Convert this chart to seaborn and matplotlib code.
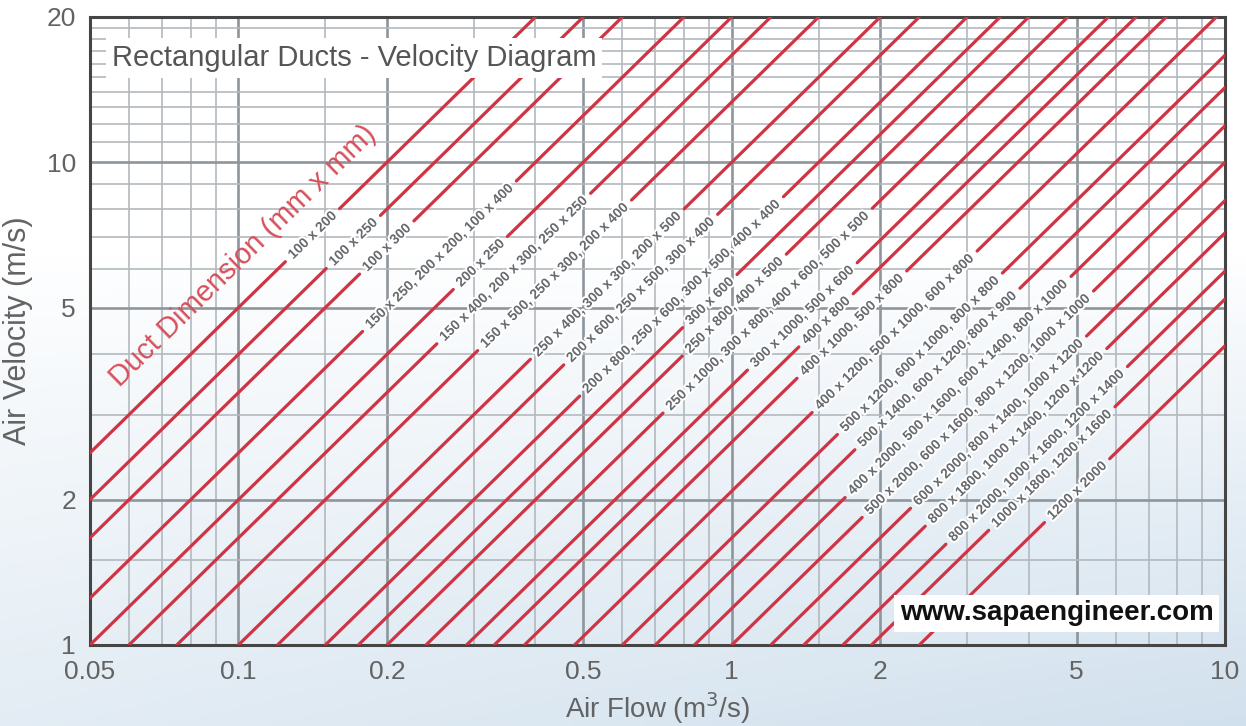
import numpy as np
import pandas as pd
import matplotlib
matplotlib.use("Agg")
import matplotlib.pyplot as plt
import matplotlib.patheffects as pe
import seaborn as sns

# ---------------------------------------------------
# Daten: Kanalquerschnitte (m2) und Beschriftungen
# ---------------------------------------------------
duct_area = [0.02, 0.025, 0.03, 0.04, 0.05, 0.06, 0.075, 0.1, 0.12, 0.15,
             0.175, 0.2, 0.24, 0.29, 0.33, 0.38, 0.48,
             0.6, 0.7, 0.84, 1.0, 1.2, 1.4, 1.68, 1.92, 2.4]
duct_labels = [
    "100 x 200",
    "100 x 250",
    "100 x 300",
    "150 x 250, 200 x 200, 100 x 400",
    "200 x 250",
    "150 x 400, 200 x 300, 250 x 250",
    "150 x 500, 250 x 300, 200 x 400",
    "250 x 400, 300 x 300, 200 x 500",
    "200 x 600, 250 x 500, 300 x 400",
    "200 x 800, 250 x 600, 300 x 500, 400 x 400",
    "300 x 600",
    "250 x 800, 400 x 500",
    "250 x 1000, 300 x 800, 400 x 600, 500 x 500",
    "300 x 1000, 500 x 600",
    "400 x 800",
    "400 x 1000, 500 x 800",
    "400 x 1200, 500 x 1000, 600 x 800",
    "500 x 1200, 600 x 1000, 800 x 800",
    "500 x 1400, 600 x 1200, 800 x 900",
    "400 x 2000, 500 x 1600, 600 x 1400, 800 x 1000",
    "500 x 2000, 600 x 1600, 800 x 1200, 1000 x 1000",
    "600 x 2000, 800 x 1400, 1000 x 1200",
    "800 x 1800, 1000 x 1400, 1200 x 1200",
    "800 x 2000, 1000 x 1600, 1200 x 1400",
    "1000 x 1800, 1200 x 1600",
    "1200 x 2000",
]

x_ticks = [0.05, 0.1, 0.2, 0.5, 1, 2, 5, 10]
x_ticklabels = ["0.05", "0.1", "0.2", "0.5", "1", "2", "5", "10"]
x_minor = [0.06, 0.07, 0.08, 0.09, 0.15, 0.3, 0.4, 0.6, 0.7, 0.8, 0.9,
           1.5, 3, 4, 6, 7, 8, 9]
y_ticks = [1, 2, 5, 10, 20]
y_ticklabels = ["1", "2", "5", "10", "20"]
y_minor = [1.5, 3, 4, 6, 7, 8, 9, 11, 12, 13, 14, 15, 16, 17, 18, 19]

X_MIN, X_MAX = 0.05, 10
Y_MIN, Y_MAX = 1, 20

RED = "#cf3444"
GREY_TXT = "#636363"

# ---------------------------------------------------
# Stil
# ---------------------------------------------------
sns.set_theme(style="white")
plt.rcParams["font.family"] = ["Liberation Sans", "DejaVu Sans"]

fig = plt.figure(figsize=(12.46, 7.26), dpi=100)

# Hintergrund-Verlauf (weiss -> hellblau)
bg = fig.add_axes([0, 0, 1, 1], zorder=-10)
yy, xx = np.mgrid[0:1:200j, 0:1:300j]
t = np.clip((yy - 0.35) / 0.65, 0, 1) ** 0.9 * (0.6 + 0.4 * xx)
c0 = np.array([1.0, 1.0, 1.0])
c1 = np.array([0.82, 0.88, 0.93])
grad = c0[None, None, :] * (1 - t[..., None]) + c1[None, None, :] * t[..., None]
bg.imshow(grad, extent=[0, 1, 0, 1], aspect="auto", origin="upper")
bg.axis("off")

ax = fig.add_axes([0.0722, 0.1116, 0.911, 0.865])
ax.patch.set_alpha(0)
ax.set_xscale("log")
ax.set_yscale("log")
ax.set_xlim(X_MIN, X_MAX)
ax.set_ylim(Y_MIN, Y_MAX)

# ---------------------------------------------------
# Achsen / Gitter
# ---------------------------------------------------
ax.set_xticks(x_ticks)
ax.set_xticklabels(x_ticklabels)
ax.set_xticks(x_minor, minor=True)
ax.set_xticklabels([], minor=True)
ax.set_yticks(y_ticks)
ax.set_yticklabels(y_ticklabels)
ax.set_yticks(y_minor, minor=True)
ax.set_yticklabels([], minor=True)
ax.tick_params(which="both", length=0, labelsize=19, labelcolor=GREY_TXT)
ax.tick_params(axis="x", pad=11)
ax.tick_params(axis="y", pad=10)
ax.grid(which="major", color="#8e959b", lw=1.9)
ax.grid(which="minor", color="#b3b9be", lw=1.2)
ax.set_axisbelow(True)
for sp in ax.spines.values():
    sp.set_color("#454545")
    sp.set_linewidth(2.2)

# ---------------------------------------------------
# Beschriftungen entlang der Linien + Linien mit Luecken
# ---------------------------------------------------
fig.canvas.draw()
renderer = fig.canvas.get_renderer()
bb = ax.get_window_extent(renderer)
ppd_x = bb.width / np.log10(X_MAX / X_MIN)
ppd_y = bb.height / np.log10(Y_MAX / Y_MIN)
theta = np.degrees(np.arctan2(ppd_y, ppd_x))
cos_t = np.cos(np.radians(theta))

rows = []
for i, (area, lab) in enumerate(zip(duct_area, duct_labels)):
    la = np.log10(area)
    lq = np.interp(la, [-1.699, -0.319, 0.380], [-0.85, 0.33, 0.70])
    qc = 10 ** lq
    txt = ax.text(qc, qc / area, lab, fontsize=10, fontweight="bold",
                  color="#676a6e", ha="center", va="center",
                  rotation_mode="anchor", zorder=4,
                  path_effects=[pe.withStroke(linewidth=3, foreground="white")])
    w = txt.get_window_extent(renderer).width
    txt.set_rotation(theta)
    dlog = (w / 2 + 7) * cos_t / ppd_x

    q0 = max(X_MIN, area * Y_MIN)
    q1 = min(X_MAX, area * Y_MAX)
    qa = qc / 10 ** dlog
    qb = qc * 10 ** dlog
    for k, (s, e) in enumerate([(q0, min(qa, q1)), (max(qb, q0), q1)]):
        if e > s:
            rows.append({"seg": f"{i}_{k}", "Q": s, "V": s / area})
            rows.append({"seg": f"{i}_{k}", "Q": e, "V": e / area})

lines_df = pd.DataFrame(rows)
sns.lineplot(data=lines_df, x="Q", y="V", units="seg", estimator=None,
             sort=False, color=RED, lw=2.3, legend=False, ax=ax, zorder=3)
ax.set_xlabel("Air Flow (m$^3$/s)", fontsize=20, color=GREY_TXT, labelpad=4)
ax.set_ylabel("Air Velocity (m/s)", fontsize=22, color=GREY_TXT, labelpad=10)
ax.set_xlim(X_MIN, X_MAX)
ax.set_ylim(Y_MIN, Y_MAX)

# ---------------------------------------------------
# Texte
# ---------------------------------------------------
ax.text(0.019, 0.935, "Rectangular Ducts - Velocity Diagram",
        transform=ax.transAxes, fontsize=21, color="#555555",
        ha="left", va="center", zorder=6,
        bbox=dict(boxstyle="square,pad=0.2", fc="white", ec="none"))

ax.text(0.102, 6.4, "Duct Dimension (mm x mm)", fontsize=21, color="#d6505b",
        ha="center", va="center", rotation=theta, rotation_mode="anchor",
        zorder=5)

ax.text(0.99, 0.03, "www.sapaengineer.com", transform=ax.transAxes,
        fontsize=20, fontweight="bold", color="#111111",
        ha="right", va="bottom", zorder=6,
        bbox=dict(boxstyle="square,pad=0.2", fc="white", ec="none"))

fig.savefig("out.png", dpi=100)
plt.close(fig)
